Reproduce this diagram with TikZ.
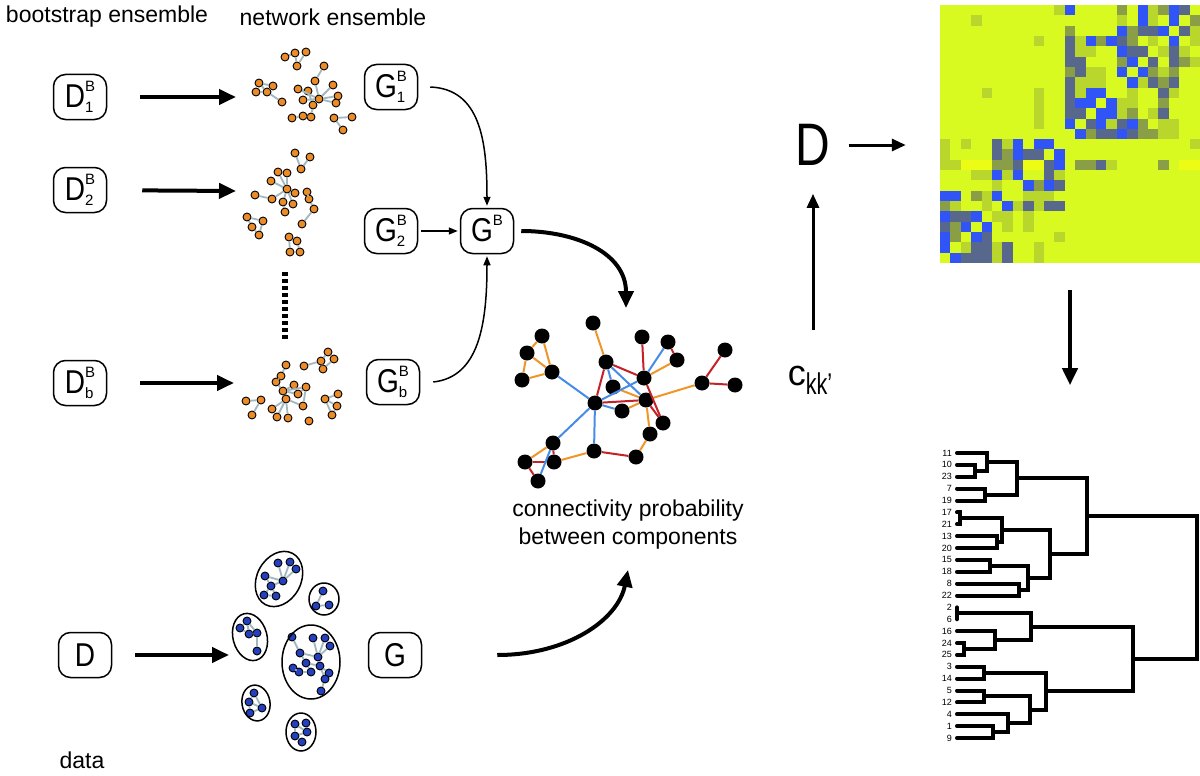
\documentclass[tikz,border=0pt]{standalone}
\usepackage{fontspec}
\setmainfont{Liberation Sans}
\usepackage{graphicx}
\usetikzlibrary{arrows.meta,calc,positioning}

\definecolor{hmY}{RGB}{216,250,32}
\definecolor{hmy}{RGB}{236,252,20}
\definecolor{hmL}{RGB}{184,214,44}
\definecolor{hmG}{RGB}{138,158,72}
\definecolor{hmD}{RGB}{88,104,140}
\definecolor{hmB}{RGB}{48,84,246}
\definecolor{netorange}{RGB}{236,140,40}
\definecolor{netedge}{RGB}{160,184,190}
\definecolor{clblue}{RGB}{36,64,190}
\definecolor{eorange}{RGB}{240,150,40}
\definecolor{ered}{RGB}{196,34,40}
\definecolor{eblue}{RGB}{70,140,230}

\newcommand{\ens}[3]{\scalebox{0.85}[1]{\fontsize{33}{33}\selectfont #1}{\fontsize{15}{15}\selectfont\rlap{\raisebox{-5pt}{#3}}\raisebox{16pt}{#2}}}
\newcommand{\dmerge}[4]{%
  \coordinate (h#1) at (#4,0);
  \coordinate (u#1) at (#2 -| h#1);
  \coordinate (v#1) at (#3 -| h#1);
  \draw[dendro] (#2) -- (u#1) -- (v#1) -- (#3);
  \coordinate (#1) at ($(u#1)!0.5!(v#1)$);
}

\begin{document}
\begin{tikzpicture}[x=1pt,y=-1pt,
	ebox/.style={draw,line width=1.5pt,rounded corners=12pt,minimum width=53pt,minimum height=45pt,inner sep=1pt},
	txt/.style={font=\fontsize{23}{28}\selectfont,inner sep=0pt},
	bigarrow/.style={line width=4pt,-{Triangle[length=17pt,width=15pt]}},
	medarrow/.style={line width=3pt,-{Triangle[length=14pt,width=12pt]}},
	tharrow/.style={line width=1.5pt,-{Triangle[length=9pt,width=7pt]}},
	onode/.style={circle,draw=black,fill=netorange,line width=0.9pt,inner sep=0pt,minimum size=8pt},
	bnode/.style={circle,draw=black,fill=clblue,line width=0.9pt,inner sep=0pt,minimum size=8pt},
	mnode/.style={circle,fill=black,inner sep=0pt,minimum size=15pt},
	nedge/.style={draw=netedge,line width=1.8pt},
	medge/.style={line width=2pt},
	blob/.style={line width=1.5pt},
	dendro/.style={line width=4pt,line cap=round},
	leaflab/.style={font=\fontsize{9}{9}\selectfont,inner sep=0pt,anchor=east}]
	\useasboundingbox (0,0) rectangle (1200,776);
	\fill[white] (0,0) rectangle (1200,776);

	\node[txt] (boot) at (107,17) {bootstrap ensemble};
	\node[txt] (netens) at (333,17) {network ensemble};
	\node[txt] (data) at (82,760) {data};
	\node[txt,align=center] (conn) at (628,525) {connectivity probability\\ between components};

	\node[ebox] (d1) at (80,97) {\ens{D}{B}{1}};
	\node[ebox] (d2) at (80,190) {\ens{D}{B}{2}};
	\node[ebox] (db) at (80,383) {\ens{D}{B}{b}};
	\node[ebox] (g1) at (391,87) {\ens{G}{B}{1}};
	\node[ebox] (g2) at (391,231) {\ens{G}{B}{2}};
	\node[ebox] (gb) at (487,231) {\ens{G}{B}{}};
	\node[ebox] (gbb) at (393,382) {\ens{G}{B}{b}};
	\node[ebox] (d) at (85,655) {\scalebox{0.85}[1]{\fontsize{33}{33}\selectfont D}};
	\node[ebox] (g) at (395,655) {\scalebox{0.85}[1]{\fontsize{33}{33}\selectfont G}};

	\coordinate (n1w) at (236,97);
	\coordinate (n2w) at (236,191);
	\coordinate (nbw) at (234,383);
	\coordinate (clw) at (229,655);
	\draw[bigarrow,shorten <=33pt] (d1) -- (n1w);
	\draw[bigarrow,shorten <=35pt] (d2) -- (n2w);
	\draw[bigarrow,shorten <=33pt] (db) -- (nbw);
	\draw[bigarrow,shorten <=23pt] (d) -- (clw);
	\draw[line width=6pt,dash pattern=on 4pt off 3pt] (285,272) -- (285,340);

	\foreach \n/\x/\y in {1/285/57,2/295/53,3/306/52,4/297/66,5/324/66,6/315/81,7/259/83,8/273/86,9/256/92,10/267/92,11/282/102,12/298/89,13/308/91,14/333/85,15/303/100,16/319/99,17/338/96,18/313/105,19/336/103,20/311/117,21/303/116,22/292/118,23/334/118,24/352/117,25/343/130}
		\node[onode] (p\n) at (\x,\y) {};
	\foreach \a/\b in {1/2,2/4,3/4,5/6,7/8,7/10,9/10,8/10,10/11,16/6,16/14,16/17,16/19,16/15,16/12,16/18,12/13,13/18,18/20,20/21,21/22,23/24,23/25}
		\draw[nedge] (p\a) -- (p\b);

	\foreach \n/\x/\y in {1/295/153,2/310/157,3/301/169,4/278/172,5/287/173,6/271/181,7/287/189,8/295/193,9/255/195,10/272/199,11/283/202,12/293/204,13/285/212,14/307/192,15/309/199,16/314/209,17/302/224,18/247/217,19/263/221,20/252/227,21/259/235,22/289/237,23/297/241,24/290/252,25/300/252}
		\node[onode] (q\n) at (\x,\y) {};
	\foreach \a/\b in {1/3,2/3,7/4,7/5,7/6,7/8,7/11,7/12,7/10,9/10,11/13,14/15,15/16,16/17,18/19,18/20,19/21,20/21,22/23,22/24,23/25,24/25}
		\draw[nedge] (q\a) -- (q\b);

	\foreach \n/\x/\y in {1/328/352,2/321/361,3/334/359,4/304/366,5/323/369,6/286/365,7/281/376,8/276/382,9/283/391,10/294/385,11/306/387,12/298/394,13/286/399,14/303/406,15/272/409,16/277/417,17/288/418,18/309/421,19/246/401,20/261/400,21/252/415,22/338/394,23/325/399,24/337/406,25/332/415}
		\node[onode] (r\n) at (\x,\y) {};
	\foreach \a/\b in {1/2,1/3,2/4,2/5,3/5,6/7,7/8,8/9,9/10,9/11,10/12,11/12,9/13,13/14,13/15,13/16,13/17,11/14,9/12,19/20,20/21,22/23,23/24,24/25,23/25}
		\draw[nedge] (r\a) -- (r\b);

	\foreach \n/\x/\y in {1/278/563,2/290/562,3/296/569,4/265/576,5/283/581,6/271/586,7/264/595,8/276/596,9/323/591,10/316/606,11/329/605,12/247/621,13/240/628,14/249/634,15/257/633,16/257/651,17/292/637,18/313/638,19/325/638,20/330/646,21/300/653,22/318/657,23/306/663,24/320/666,25/293/668,26/299/672,27/311/672,28/329/673,29/325/679,30/321/691,31/254/693,32/249/702,33/262/708,34/250/713,35/295/724,36/306/723,37/307/732,38/295/736,39/302/742}
		\node[bnode] (cl\n) at (\x,\y) {};
	\foreach \a/\b in {5/1,5/2,5/3,5/4,5/6,6/4,6/7,7/8,6/8,9/10,10/11,12/13,12/14,12/15,13/14,14/15,15/16,17/21,22/18,22/19,22/20,22/21,21/23,23/24,22/24,25/26,26/27,23/27,24/28,24/29,29/30,31/32,31/33,32/33,32/34,33/34,35/37,36/37,37/38,38/39,35/38}
		\draw[nedge] (cl\a) -- (cl\b);
	\draw[blob] (279,579) ellipse [x radius=22,y radius=29,rotate=-28];
	\draw[blob] (324,599) ellipse [x radius=15,y radius=16];
	\draw[blob] (250,637) ellipse [x radius=17,y radius=24,rotate=15];
	\draw[blob] (311,662) ellipse [x radius=29,y radius=37];
	\draw[blob] (256,703) ellipse [x radius=14,y radius=18,rotate=10];
	\draw[blob] (301,732) ellipse [x radius=15,y radius=19];

	\draw[tharrow] ([xshift=12pt]g1.east) .. controls +(50,2) and +(0,-65) .. ([yshift=2pt]gb.north);
	\draw[tharrow,shorten <=3pt,shorten >=2pt] (g2) -- (gb);
	\draw[tharrow] ([xshift=13pt]gbb.east) .. controls +(45,-5) and +(0,70) .. ([yshift=-2pt]gb.south);

	\foreach \n/\x/\y in {1/593/323,2/542/336,3/527/353,4/522/380,5/552/372,6/606/362,7/642/337,8/668/342,9/677/360,10/644/378,11/613/387,12/595/403,13/622/411,14/646/400,15/663/423,16/650/434,17/553/443,18/525/462,19/554/462,20/538/481,21/594/451,22/636/457,23/702/383,24/725/350,25/735/385}
		\node[mnode] (m\n) at (\x,\y) {};
	\foreach \a/\b/\col in {1/6/eorange,2/3/eorange,2/5/eorange,3/5/eorange,3/4/eorange,4/5/eorange,9/10/eorange,13/14/eorange,14/23/eorange,14/16/eorange,16/22/eorange,21/19/eorange,17/18/eorange,11/14/eorange,6/12/ered,6/10/ered,7/10/ered,8/9/ered,10/15/ered,12/14/ered,14/15/ered,21/22/ered,17/19/ered,18/19/ered,18/20/ered,23/24/ered,23/25/ered,5/12/eblue,6/14/eblue,8/10/eblue,10/12/eblue,12/13/eblue,12/21/eblue,12/17/eblue,17/20/eblue,6/11/eblue}
		\draw[medge,draw=\col] (m\a) -- (m\b);

	\coordinate (mtop) at (626,308);
	\draw[bigarrow] ([xshift=7pt]gb.east) .. controls +(55,0) and +(0,-55) .. (mtop);
	\draw[bigarrow] ([xshift=75pt]g.east) .. controls +(70,0) and +(-10,50) .. ([yshift=-20pt]conn.south);

	\node[inner sep=0pt] (ckk) at (810,380) {{\fontsize{36}{36}\selectfont c}\raisebox{-9pt}{\scalebox{0.72}[1]{\fontsize{30}{30}\selectfont kk’}}};
	\node[inner sep=0pt] (bigd) at (813,145) {\scalebox{0.8}[1]{\fontsize{60}{60}\selectfont D}};
	\node[minimum width=260pt,minimum height=258pt,inner sep=0pt] (heat) at (1070,134) {};
	\draw[medarrow,shorten <=36pt,shorten >=28pt] (ckk.north -| bigd) -- (bigd.south);
	\draw[medarrow,shorten <=18pt,shorten >=34pt] (bigd.east) -- (bigd.east -| heat.west);
	\coordinate (dtop) at ($(heat.south)+(0,122)$);
	\draw[bigarrow,shorten <=27pt] (heat.south) -- (dtop);

	\foreach \row [count=\r from 0] in {
		{Y,Y,Y,Y,Y,Y,Y,Y,Y,Y,Y,L,B,Y,Y,Y,Y,G,Y,B,L,G,B,D,Y},
		{Y,Y,Y,L,Y,Y,Y,Y,Y,Y,Y,Y,Y,Y,Y,Y,Y,L,Y,B,L,Y,B,Y,G},
		{Y,Y,Y,Y,Y,Y,Y,Y,Y,Y,Y,Y,G,Y,Y,Y,Y,B,G,D,D,B,Y,D,L},
		{Y,Y,Y,Y,Y,Y,Y,Y,Y,L,Y,Y,D,L,B,G,B,D,G,Y,L,Y,B,Y,L},
		{Y,Y,Y,Y,Y,Y,Y,Y,Y,Y,Y,Y,D,L,L,Y,Y,B,D,D,Y,L,D,L,Y},
		{Y,Y,Y,Y,Y,Y,Y,Y,Y,Y,Y,Y,D,D,Y,Y,Y,G,B,Y,D,Y,D,G,L},
		{Y,Y,Y,Y,Y,Y,Y,Y,Y,Y,Y,Y,G,D,L,L,Y,B,Y,B,G,L,G,Y,Y},
		{Y,Y,Y,Y,Y,Y,Y,Y,Y,Y,Y,Y,D,L,L,L,Y,Y,B,L,D,G,D,Y,Y},
		{Y,Y,Y,Y,L,Y,Y,Y,Y,L,Y,Y,D,L,B,B,Y,Y,L,Y,Y,D,L,Y,Y},
		{Y,Y,Y,Y,Y,Y,Y,Y,Y,L,Y,Y,D,B,B,Y,B,L,L,Y,Y,G,Y,Y,Y},
		{Y,Y,Y,Y,Y,Y,Y,Y,Y,L,Y,Y,D,D,Y,B,B,L,G,Y,L,D,Y,Y,Y},
		{Y,Y,Y,Y,Y,Y,Y,Y,Y,L,Y,Y,B,Y,D,B,L,D,B,G,Y,L,L,Y,Y},
		{Y,Y,Y,Y,Y,Y,Y,Y,Y,Y,Y,Y,Y,B,G,D,D,B,D,G,G,L,L,Y,Y},
		{L,Y,L,Y,Y,D,L,B,Y,B,B,Y,Y,Y,Y,Y,Y,Y,Y,Y,Y,Y,Y,Y,L},
		{L,Y,Y,Y,Y,D,G,B,D,D,Y,B,Y,Y,Y,Y,Y,Y,Y,Y,Y,Y,Y,Y,Y},
		{L,L,y,y,y,G,G,D,y,y,D,B,Y,G,G,D,L,Y,Y,Y,Y,G,Y,y,y},
		{Y,Y,Y,L,L,B,L,B,Y,Y,D,L,Y,Y,Y,Y,Y,Y,Y,Y,Y,Y,Y,Y,Y},
		{Y,Y,Y,Y,Y,L,Y,Y,B,G,B,D,Y,Y,Y,Y,Y,Y,Y,Y,Y,Y,Y,Y,Y},
		{B,B,Y,G,L,B,Y,Y,L,L,L,Y,Y,Y,Y,Y,Y,Y,Y,Y,Y,Y,Y,Y,Y},
		{G,L,Y,Y,L,Y,B,L,D,L,D,D,Y,Y,Y,Y,Y,Y,Y,Y,Y,Y,Y,Y,Y},
		{B,D,D,B,Y,L,L,Y,L,Y,Y,Y,Y,Y,Y,Y,Y,Y,Y,Y,Y,Y,Y,Y,Y},
		{D,G,B,Y,B,Y,L,Y,L,Y,Y,Y,Y,Y,Y,Y,Y,Y,Y,Y,Y,Y,Y,Y,Y},
		{B,G,Y,B,D,Y,Y,Y,Y,Y,Y,L,Y,Y,Y,Y,Y,Y,Y,Y,Y,Y,Y,Y,Y},
		{B,Y,L,D,D,L,D,Y,Y,L,Y,Y,Y,Y,Y,Y,Y,Y,Y,Y,Y,Y,Y,Y,Y},
		{Y,B,D,D,D,L,D,Y,Y,L,Y,Y,Y,Y,Y,Y,Y,Y,Y,Y,Y,Y,Y,Y,Y}}
		\foreach \c [count=\k from 0] in \row
			\fill[fill=hm\c] ({940+10.4*\k},{5+10.32*\r}) rectangle +(10.5,10.4);

	\foreach \lab [count=\i from 0] in {11,10,23,7,19,17,21,13,20,15,18,8,22,2,6,16,24,25,3,14,5,12,4,1,9}{
		\coordinate (l\lab) at (957,{453+11.875*\i});
		\node[leaflab] (t\lab) at (952,{453+11.875*\i}) {\lab};
	}
	\dmerge{a1}{l10}{l23}{975}
	\dmerge{a2}{l11}{a1}{987}
	\dmerge{a3}{l7}{l19}{985}
	\dmerge{a4}{a2}{a3}{1017}
	\dmerge{a5}{l17}{l21}{960}
	\dmerge{a6}{l13}{l20}{997}
	\dmerge{a7}{a5}{a6}{1002}
	\dmerge{a8}{l15}{l18}{990}
	\dmerge{a9}{l8}{l22}{1019}
	\dmerge{a10}{a8}{a9}{1028}
	\dmerge{a11}{a7}{a10}{1050}
	\dmerge{a12}{a4}{a11}{1087}
	\dmerge{b1}{l2}{l6}{957}
	\dmerge{b2}{l24}{l25}{964}
	\dmerge{b3}{l16}{b2}{995}
	\dmerge{b4}{b1}{b3}{1031}
	\dmerge{b5}{l3}{l14}{984}
	\dmerge{b6}{l5}{l12}{984}
	\dmerge{b7}{l1}{l9}{993}
	\dmerge{b8}{l4}{b7}{1008}
	\dmerge{b9}{b6}{b8}{1030}
	\dmerge{b10}{b5}{b9}{1046}
	\dmerge{b11}{b4}{b10}{1133}
	\dmerge{root}{a12}{b11}{1197}
\end{tikzpicture}
\end{document}
